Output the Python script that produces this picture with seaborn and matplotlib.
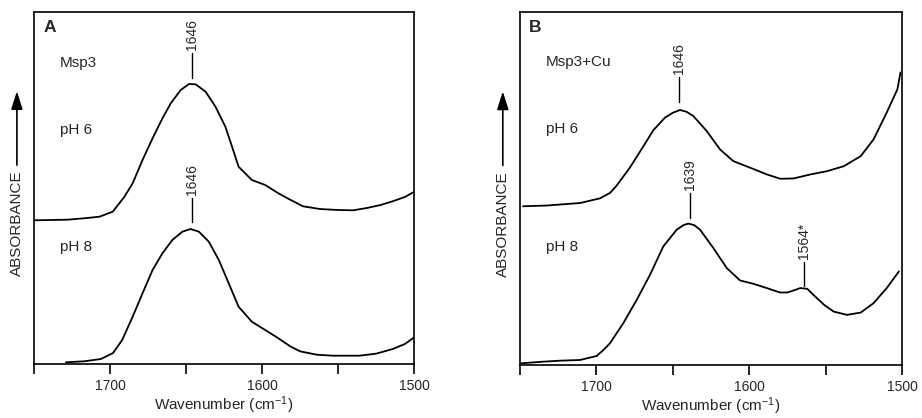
import numpy as np
import pandas as pd
import matplotlib
matplotlib.use("Agg")
import matplotlib.pyplot as plt
from matplotlib.ticker import FixedLocator, FixedFormatter
import seaborn as sns

# -- Data (arbitrary absorbance units) ----------------------------------------
a_ph6_wn = [1750, 1728, 1715, 1706.9, 1698.2, 1690.5, 1685.1, 1678.6, 1672, 1665.5,
            1660, 1653.5, 1648, 1643.7, 1637.1, 1630.6, 1624.1, 1619.7, 1615.4,
            1606.7, 1597.9, 1589.2, 1581.5, 1573, 1562, 1550, 1540, 1531, 1522,
            1514, 1506, 1500.5]
a_ph6_abs = [143.7, 144.3, 146, 147.3, 152.3, 167.3, 180.7, 204, 225.7, 245.7,
             260.7, 274, 280, 279.7, 272.3, 257.3, 237.3, 217.3, 197.3,
             184, 179, 170.7, 164.3, 157.7, 155, 154, 153.7, 156, 159,
             162.7, 167, 171.7]

a_ph8_wn = [1729, 1717, 1706, 1698, 1692, 1685.1, 1678.6, 1672, 1665.5, 1659,
            1652.4, 1647, 1641.5, 1635, 1628.4, 1621.9, 1615.4, 1606.7, 1597.9,
            1589.2, 1581.5, 1575, 1564, 1553, 1536, 1525, 1514, 1506, 1500.5]
a_ph8_abs = [1.7, 2.7, 5, 11, 24, 47.3, 70.7, 94, 110.7, 124,
             132.3, 135, 132.3, 122.3, 104, 80.7, 57.3, 42.3, 34,
             25.7, 17.7, 12.7, 9.3, 8.3, 8.3, 10.3, 15, 20, 26]

b_ph6_wn = [1748, 1732.5, 1724, 1710.7, 1697.6, 1691, 1686.7, 1678, 1669.3, 1662.8,
            1655.1, 1650, 1645.3, 1641, 1636.6, 1627.8, 1619.1, 1610.4, 1597.3,
            1588.4, 1579.7, 1571, 1560, 1549, 1538, 1527, 1518.6, 1510, 1503, 1501]
b_ph6_abs = [158.3, 159, 160, 161.5, 166.2, 171.7, 179, 197, 218, 234,
             246.7, 251.5, 254.3, 252.5, 248.3, 233.3, 215, 203.3, 195.5,
             190, 185.7, 186, 190, 193.3, 198.3, 208.3, 225, 251.7, 275, 291.7]

b_ph8_wn = [1749, 1735, 1724, 1710.7, 1699.8, 1695.4, 1691.1, 1682.4, 1673.6, 1664.9,
            1656.2, 1647.4, 1643, 1639.9, 1636, 1632.2, 1623.5, 1614.7, 1606, 1597.3,
            1588.5, 1579.8, 1575, 1571, 1566.6, 1562, 1558, 1551, 1544.8, 1536, 1527,
            1518.6, 1510, 1502]
b_ph8_abs = [1.7, 3.3, 4.3, 5, 9, 15, 21.7, 41.7, 65, 90,
             118.3, 135, 139.5, 141, 139.5, 135, 116.7, 96.7, 84.3, 81,
             76.7, 72.3, 72.3, 74.3, 76.7, 76, 70, 60, 53.3, 50, 52.3,
             61.7, 76.7, 93.3]

tick_positions = [1750, 1700, 1650, 1600, 1550, 1500]
tick_labels = ["", "1700", "", "1600", "", "1500"]

panel_letters = ["A", "B"]
sample_names = ["Msp3", "Msp3+Cu"]
ph_labels = ["pH 6", "pH 8"]

# peak annotations: (panel, wavenumber, line bottom, line top, label)
peak_panel = [0, 0, 1, 1, 1]
peak_wn = [1646, 1646, 1646, 1639, 1564]
peak_lo = [286, 142, 262, 147, 79]
peak_hi = [311, 166, 287, 172, 103]
peak_text = ["1646", "1646", "1646", "1639", "1564*"]

# -- Style ---------------------------------------------------------------------
sns.set_style("ticks")
plt.rcParams["font.family"] = ["Liberation Sans", "DejaVu Sans"]
plt.rcParams["mathtext.fontset"] = "custom"
plt.rcParams["mathtext.rm"] = "Liberation Sans"
plt.rcParams["mathtext.it"] = "Liberation Sans:italic"
plt.rcParams["mathtext.default"] = "regular"

fig = plt.figure(figsize=(9.22, 4.18), dpi=100)
ax_a = fig.add_axes([34 / 922, 1 - 364 / 418, 380 / 922, 352 / 418])
ax_b = fig.add_axes([520 / 922, 1 - 365 / 418, 382 / 922, 353 / 418])
axes = [ax_a, ax_b]

curves = [
    [(a_ph6_wn, a_ph6_abs), (a_ph8_wn, a_ph8_abs)],
    [(b_ph6_wn, b_ph6_abs), (b_ph8_wn, b_ph8_abs)],
]
ph_y = [[234, 117], [235, 118]]
name_y = [301, 302]
letter_y = [336, 337]

for i, ax in enumerate(axes):
    for wn, ab in curves[i]:
        df = pd.DataFrame({"wn": wn, "abs": ab})
        sns.lineplot(data=df, x="wn", y="abs", ax=ax, color="black",
                     linewidth=1.3, sort=False, estimator=None)
    ax.set_xlim(1750, 1500)
    ax.set_ylim(0, 352)
    ax.set_yticks([])
    ax.set_ylabel("")
    ax.xaxis.set_major_locator(FixedLocator(tick_positions))
    ax.xaxis.set_major_formatter(FixedFormatter(tick_labels))
    ax.tick_params(axis="x", direction="out", length=7, width=1.2,
                   labelsize=10, pad=4, color="black")
    for sp in ax.spines.values():
        sp.set_visible(True)
        sp.set_linewidth(1.2)
        sp.set_color("black")
    ax.set_xlabel("Wavenumber (cm$^{-1}$)", fontsize=11, labelpad=1)

    ax.text(1744, letter_y[i], panel_letters[i], fontsize=12.5, fontweight="bold",
            ha="left", va="center")
    ax.text(1733, name_y[i], sample_names[i], fontsize=11, ha="left", va="center")
    for lab, yy in zip(ph_labels, ph_y[i]):
        ax.text(1733, yy, lab, fontsize=11, ha="left", va="center")

    # absorbance label with arrow
    ax.text(-0.045, 0.40, "ABSORBANCE", transform=ax.transAxes, rotation=90,
            fontsize=11, ha="center", va="center")
    ax.annotate("", xy=(-0.045, 0.775), xytext=(-0.045, 0.565),
                xycoords="axes fraction", textcoords="axes fraction",
                arrowprops=dict(arrowstyle="-|>,head_length=1.1,head_width=0.35",
                                color="black", lw=1.2, shrinkA=0, shrinkB=0),
                annotation_clip=False)

for p, wn, lo, hi, txt in zip(peak_panel, peak_wn, peak_lo, peak_hi, peak_text):
    ax = axes[p]
    ax.plot([wn, wn], [lo, hi], color="black", linewidth=1.0)
    ax.text(wn, hi + 3, txt, rotation=90, fontsize=10, ha="center", va="bottom")

fig.savefig("out.png", dpi=100)
